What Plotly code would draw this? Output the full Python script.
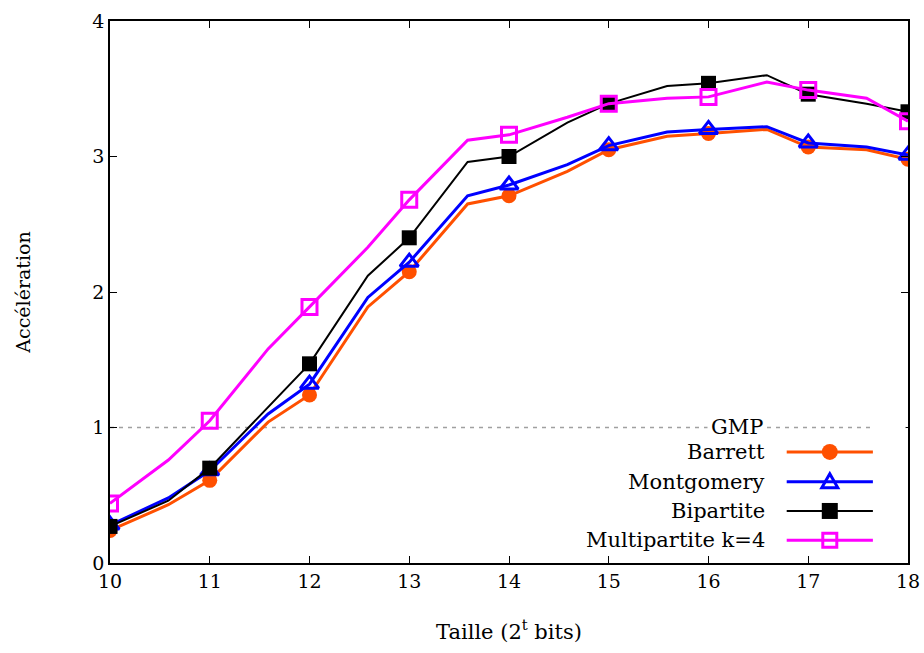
import plotly.graph_objects as go

# taille t (points intermediaires a 1.5 * 2^t)
TAILLE = [10, 10.585, 11, 11.585, 12, 12.585, 13, 13.585, 14, 14.585,
          15, 15.585, 16, 16.585, 17, 17.585, 18]
BARRETT = [0.24, 0.43, 0.61, 1.04, 1.24, 1.89, 2.15, 2.65, 2.71, 2.89,
           3.05, 3.15, 3.17, 3.20, 3.07, 3.05, 2.98]
MONTGOMERY = [0.28, 0.48, 0.68, 1.10, 1.32, 1.96, 2.22, 2.71, 2.79, 2.94,
              3.08, 3.18, 3.20, 3.22, 3.10, 3.07, 3.01]
BIPARTITE = [0.27, 0.46, 0.70, 1.15, 1.47, 2.12, 2.40, 2.96, 3.00, 3.25,
             3.39, 3.52, 3.54, 3.60, 3.46, 3.39, 3.33]
MULTIPARTITE = [0.44, 0.76, 1.05, 1.58, 1.89, 2.33, 2.68, 3.12, 3.16, 3.29,
                3.39, 3.43, 3.44, 3.55, 3.49, 3.43, 3.26]
GMP = [1.0, 1.0]
GMP_X = [10, 18]

X_TICKS = list(range(10, 19))
Y_TICKS = [0, 1, 2, 3, 4]

FONT = "DejaVu Serif"
TICK_FS = 19
LEG_FS = 21
ORANGE = "#FF5000"
BLUE = "#0000FF"
BLACK = "#000000"
MAGENTA = "#FF00FF"
GRAY = "#A0A0A0"

series = [
    ("Barrett", BARRETT, ORANGE, 3, "circle", 15, True),
    ("Montgomery", MONTGOMERY, BLUE, 3, "triangle-up-open", 16, False),
    ("Bipartite", BIPARTITE, BLACK, 2, "square", 15, True),
    ("Multipartite k=4", MULTIPARTITE, MAGENTA, 3, "square-open", 15, False),
]

fig = go.Figure()

fig.add_trace(go.Scatter(x=GMP_X, y=GMP, mode="lines", showlegend=False,
                         line=dict(color=GRAY, width=1.3, dash="4px,5px")))

for name, ys, color, w, sym, size, filled in series:
    fig.add_trace(go.Scatter(x=TAILLE, y=ys, mode="lines", showlegend=False,
                             line=dict(color=color, width=w)))
    fig.add_trace(go.Scatter(
        x=TAILLE[::2], y=ys[::2], mode="markers", showlegend=False,
        marker=dict(symbol=sym, size=size, color=color,
                    line=dict(color=color, width=3 if not filled else 0)),
    ))

# legende facon gnuplot (texte a gauche, echantillon a droite)
rows = [0.251, 0.205, 0.150, 0.096, 0.042]
tx, lx0, lx1, mx = 0.823, 0.848, 0.956, 0.902
shapes = []
annotations = []
annotations.append(dict(x=tx, y=rows[0], xref="paper", yref="paper", text="GMP",
                        showarrow=False, xanchor="right", yanchor="middle",
                        bgcolor="white", borderpad=3,
                        font=dict(family=FONT, size=LEG_FS, color="black")))
shapes.append(dict(type="rect", xref="paper", yref="paper", x0=lx1, x1=0.997,
                   y0=rows[0] - 0.008, y1=rows[0] + 0.008,
                   fillcolor="white", line=dict(width=0)))
for (name, ys, color, w, sym, size, filled), ry in zip(series, rows[1:]):
    annotations.append(dict(x=tx, y=ry, xref="paper", yref="paper", text=name,
                            showarrow=False, xanchor="right", yanchor="middle",
                            font=dict(family=FONT, size=LEG_FS, color="black")))
    shapes.append(dict(type="line", xref="paper", yref="paper", x0=lx0, x1=lx1,
                       y0=ry, y1=ry, line=dict(color=color, width=w)))
    base = dict(xref="paper", yref="paper", xsizemode="pixel", ysizemode="pixel",
                xanchor=mx, yanchor=ry)
    if sym == "circle":
        shapes.append(dict(base, type="circle", x0=-8, x1=8, y0=-8, y1=8,
                           fillcolor=color, line=dict(color=color, width=0)))
    elif sym == "square":
        shapes.append(dict(base, type="rect", x0=-8, x1=8, y0=-8, y1=8,
                           fillcolor=color, line=dict(color=color, width=0)))
    elif sym == "square-open":
        shapes.append(dict(base, type="rect", x0=-7, x1=7, y0=-7, y1=7,
                           fillcolor="rgba(0,0,0,0)", line=dict(color=color, width=3)))
    else:
        shapes.append(dict(base, type="path", path="M -8,-6 L 8,-6 L 0,8 Z",
                           fillcolor="rgba(0,0,0,0)", line=dict(color=color, width=3)))

axis_common = dict(showgrid=False, zeroline=False, showline=True, linecolor="black",
                   linewidth=1.5, mirror="allticks", ticks="inside", ticklen=7,
                   tickwidth=1.2, tickcolor="black", automargin=False,
                   tickfont=dict(family=FONT, size=TICK_FS, color="black"))

fig.update_xaxes(range=[10, 18], tickvals=X_TICKS, **axis_common,
                 title=dict(text="Taille (2<sup>t</sup> bits)", standoff=34,
                            font=dict(family=FONT, size=21, color="black")))
fig.update_yaxes(range=[0, 4], tickvals=Y_TICKS, **axis_common,
                 title=dict(text="Accélération", standoff=57,
                            font=dict(family=FONT, size=19, color="black")))

fig.update_layout(
    width=924, height=648,
    margin=dict(l=110, r=16, t=21, b=85),
    plot_bgcolor="white", paper_bgcolor="white",
    showlegend=False,
    shapes=shapes, annotations=annotations,
)

fig.write_html("out.html", config={"displayModeBar": False},
               post_script="document.body.style.margin='0';document.body.style.overflow='hidden';")
